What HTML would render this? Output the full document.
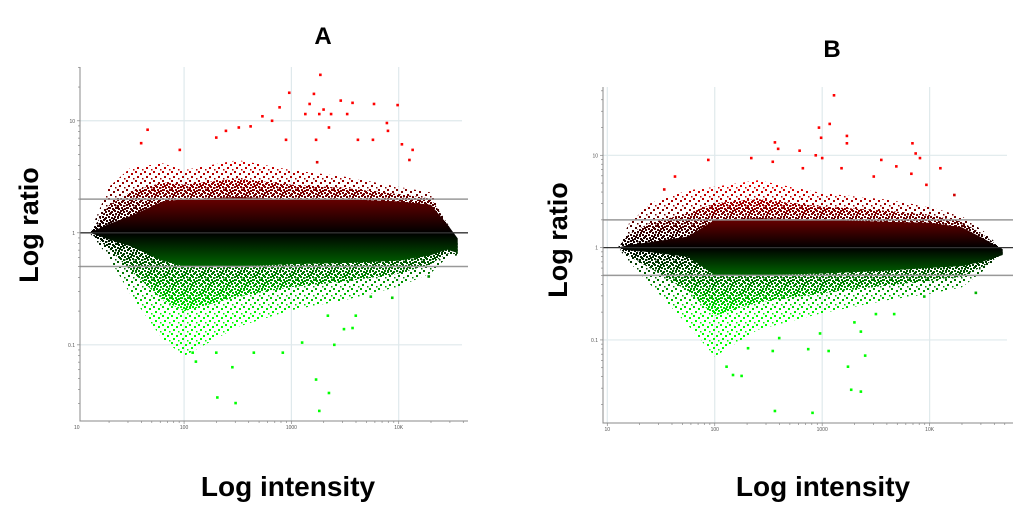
<!DOCTYPE html>
<html><head><meta charset="utf-8">
<style>
html,body{margin:0;padding:0;background:#fff;}
svg{display:block;font-family:"Liberation Sans",sans-serif;}
.t{font-weight:bold;fill:#000;}
.tick{font-size:5px;fill:#555;}
</style></head>
<body>
<svg id="chart" width="1024" height="513" viewBox="0 0 1024 513">
<defs>
<pattern id="speck" patternUnits="userSpaceOnUse" width="9" height="9">
<rect x="0" y="0" width="2" height="2" fill="#fff"/>
<rect x="5" y="2" width="2" height="2" fill="#fff"/>
<rect x="2" y="5" width="2" height="2" fill="#fff"/>
<rect x="7" y="7" width="1.5" height="1.5" fill="#fff"/>
</pattern>
<pattern id="speck2" patternUnits="userSpaceOnUse" width="6" height="6">
<rect x="0" y="0" width="2" height="2" fill="#fff"/>
<rect x="3" y="1" width="2" height="2" fill="#fff"/>
<rect x="1" y="3" width="2" height="2" fill="#fff"/>
<rect x="4" y="4" width="2" height="2" fill="#fff"/>
</pattern>
<mask id="speckMask" maskUnits="userSpaceOnUse" x="0" y="0" width="1024" height="513">
<rect x="0" y="0" width="1024" height="513" fill="url(#speck)"/>
</mask>
<mask id="speckMask2" maskUnits="userSpaceOnUse" x="0" y="0" width="1024" height="513">
<rect x="0" y="0" width="1024" height="513" fill="url(#speck2)"/>
</mask>
</defs>
<text class="t" x="323" y="44" font-size="24" text-anchor="middle">A</text>
<text class="t" x="832" y="57" font-size="24" text-anchor="middle">B</text>
<text class="t" font-size="27" text-anchor="middle" transform="translate(38,225) rotate(-90)">Log ratio</text>
<text class="t" font-size="27" text-anchor="middle" transform="translate(567,240) rotate(-90)">Log ratio</text>
<text class="t" x="288" y="496" font-size="28" text-anchor="middle">Log intensity</text>
<text class="t" x="823" y="496" font-size="28" text-anchor="middle">Log intensity</text>
<g id="pa"></g>
<g id="pb"></g>
</svg>
<script>
// Panel A data (log10 intensity, log10 ratio)
const aEnvI = [1.12,1.3,1.5,1.8,2,2.5,3,3.5,4,4.3,4.45,4.55];
const aInnerUp = [0,0.08,0.15,0.28,0.3,0.32,0.3,0.3,0.28,0.25,0.08,-0.05];
const aInnerLo = [0,-0.06,-0.12,-0.25,-0.3,-0.3,-0.28,-0.27,-0.25,-0.2,-0.15,-0.18];
const aOuterUp = [0,0.41,0.58,0.62,0.56,0.65,0.56,0.5,0.41,0.36,0.1,-0.12];
const aOuterLo = [0,-0.22,-0.55,-0.95,-1.1,-0.84,-0.69,-0.6,-0.48,-0.36,-0.22,-0.2];
const aPtI = [3.27,2.98,3.21,3.46,3.57,3.77,3.99,3.17,2.89,2.73,2.82,3.26,3.13,3.3,3.37,3.52,3.89,2.51,2.62,2.39,1.66,1.6,2.3,3.35,3.76,3.62,4.03,4.13,1.96,2.95,3.23,3.9,4.1,3.24,
  3.23,3.35,3.26,2.31,2.48,2.45,2.92,3.4,3.6,3.49,3.57,3.94,3.74,2.11,2.08,2.3,2.65,3.1,3.34,4.28];
const aPtM = [1.41,1.25,1.24,1.18,1.16,1.15,1.14,1.15,1.12,1.04,1.0,1.06,1.06,1.1,1.06,1.06,0.98,0.94,0.95,0.91,0.92,0.8,0.85,0.94,0.83,0.83,0.79,0.74,0.74,0.83,0.83,0.91,0.65,0.63,
  -1.31,-1.43,-1.59,-1.47,-1.52,-1.2,-1.07,-1.0,-0.74,-0.86,-0.85,-0.58,-0.57,-1.15,-1.07,-1.07,-1.07,-0.98,-0.74,-0.39];
// Panel B data
const bEnvI = [1.1,1.2,1.4,1.75,2,2.4,3,3.6,4,4.3,4.5,4.68];
const bInnerUp = [0,0.03,0.06,0.12,0.3,0.32,0.3,0.28,0.27,0.22,0.1,-0.02];
const bInnerLo = [0,-0.03,-0.05,-0.1,-0.3,-0.3,-0.28,-0.25,-0.22,-0.2,-0.15,-0.08];
const bOuterUp = [0,0.26,0.48,0.62,0.66,0.73,0.59,0.52,0.44,0.34,0.18,-0.02];
const bOuterLo = [0,-0.15,-0.4,-0.84,-1.18,-0.89,-0.71,-0.57,-0.5,-0.43,-0.25,-0.06];
const bPtI = [3.11,3.07,2.97,2.99,3.23,3.23,3.84,3.87,3.91,2.56,2.59,2.79,2.94,3.0,2.34,2.54,1.94,1.63,3.55,3.69,4.1,3.83,3.48,3.18,2.82,3.97,1.53,4.23,
  2.56,2.91,3.27,3.36,3.24,3.4,3.36,3.3,3.06,2.87,2.54,2.25,2.17,2.11,2.31,2.6,2.98,3.5,3.67,4.43,3.95];
const bPtM = [1.65,1.34,1.3,1.19,1.21,1.13,1.13,1.02,0.97,1.14,1.07,1.05,1.0,0.97,0.97,0.93,0.95,0.77,0.95,0.88,0.86,0.8,0.77,0.86,0.86,0.68,0.63,0.57,
  -1.77,-1.79,-1.54,-1.56,-1.29,-1.17,-0.91,-0.81,-1.12,-1.1,-1.12,-1.39,-1.38,-1.29,-1.09,-0.98,-0.93,-0.72,-0.72,-0.49,-0.53];
const xTickLabels = ["10","100","1000","10K"];
const yTickLabels = ["0.1","1","10"];

const NS = "http://www.w3.org/2000/svg";
function mk(tag, attrs, parent){const e=document.createElementNS(NS,tag);for(const k in attrs)e.setAttribute(k,attrs[k]);parent.appendChild(e);return e;}
function col(m){const v=Math.min(1,Math.abs(m)/0.7);const c=Math.round(v*255);return m>=0?`rgb(${c},0,0)`:`rgb(0,${c},0)`;}

function panel(g, id, L, R, T, B, xmin, xmax, ymin, ymax, envI, iu, il, ou, ol, pI, pM){
  const X=v=>L+(v-xmin)/(xmax-xmin)*(R-L);
  const Y=v=>T+(ymax-v)/(ymax-ymin)*(B-T);
  const defs=mk('defs',{},g);
  const gr=mk('linearGradient',{id:id+'g',gradientUnits:'userSpaceOnUse',x1:0,x2:0,y1:Y(0.75),y2:Y(-0.75)},defs);
  [['0','#ff0000'],['0.5','#000000'],['1','#00ff00']].forEach(s=>mk('stop',{offset:s[0],'stop-color':s[1]},gr));
  // grid
  for(let d=1; d<=4; d++){ if(X(d)>L+2 && X(d)<R){ const l=mk('line',{x1:X(d),x2:X(d),y1:T,y2:B,stroke:'#dfe9ec','stroke-width':1.2},g);
      } }
  [-1,1].forEach(v=>{ const l=mk('line',{x1:L,x2:R,y1:Y(v),y2:Y(v),stroke:'#dfe9ec','stroke-width':1.2},g);
      });
  // clouds
  function poly(up,lo,mask,name){
    let d='M'+envI.map((v,i)=>X(v)+','+Y(up[i])).join(' L');
    for(let i=envI.length-1;i>=0;i--) d+=' L'+X(envI[i])+','+Y(lo[i]);
    const a={d:d+'Z',fill:`url(#${id}g)`};
    if(mask) a.mask=`url(#${mask})`;
    const p=mk('path',a,g);
     
  }
  const mu=ou.map((v,i)=>(v+iu[i])/2), ml=ol.map((v,i)=>(v+il[i])/2);
  poly(ou,ol,'speckMask','sparse-point-cloud');
  poly(mu,ml,'speckMask2','medium-point-cloud');
  poly(iu,il,null,'dense-point-cloud');
  // fold-change lines
  [Math.log10(2),-Math.log10(2)].forEach(v=>{ const l=mk('line',{x1:L,x2:R+6,y1:Y(v),y2:Y(v),stroke:'#999','stroke-width':1.5},g);
      });
  const z=mk('line',{x1:L,x2:R+6,y1:Y(0),y2:Y(0),stroke:'#333','stroke-width':1.3},g);
   
  // outliers
  pI.forEach((v,i)=>{ const c=mk('rect',{x:X(v)-1.3,y:Y(pM[i])-1.3,width:2.6,height:2.6,fill:col(pM[i])},g);
      });
  // axes
  const ax=mk('path',{d:`M${L},${T} L${L},${B} L${R+6},${B}`,fill:'none',stroke:'#888','stroke-width':1},g);
   
  for(let d=1; d<=4; d++) for(let k=1;k<10;k++){ const v=d+Math.log10(k); if(X(v)<L||X(v)>R+4) continue;
    mk('line',{x1:X(v),x2:X(v),y1:B,y2:B+(k==1?3:2),stroke:'#888','stroke-width':0.7},g); }
  for(let d=-2; d<=1; d++) for(let k=1;k<10;k++){ const v=d+Math.log10(k); if(Y(v)<T||Y(v)>B) continue;
    mk('line',{x1:L-(k==1?3:2),x2:L,y1:Y(v),y2:Y(v),stroke:'#888','stroke-width':0.7},g); }
  xTickLabels.forEach((s,i)=>{ const v=i+1; if(X(v)<L-8) return; const t=mk('text',{x:X(v),y:B+8,class:'tick','text-anchor':'middle'},g); t.textContent=s;
      });
  yTickLabels.forEach((s,i)=>{ const v=i-1; const t=mk('text',{x:L-5,y:Y(v)+2,class:'tick','text-anchor':'end'},g); t.textContent=s;
      });
}
panel(document.getElementById('pa'),'a',80,462,67,421,1.03,4.59,-1.68,1.48,aEnvI,aInnerUp,aInnerLo,aOuterUp,aOuterLo,aPtI,aPtM);
panel(document.getElementById('pb'),'b',603,1007,87,423,0.96,4.72,-1.9,1.74,bEnvI,bInnerUp,bInnerLo,bOuterUp,bOuterLo,bPtI,bPtM);
</script>
</body></html>
